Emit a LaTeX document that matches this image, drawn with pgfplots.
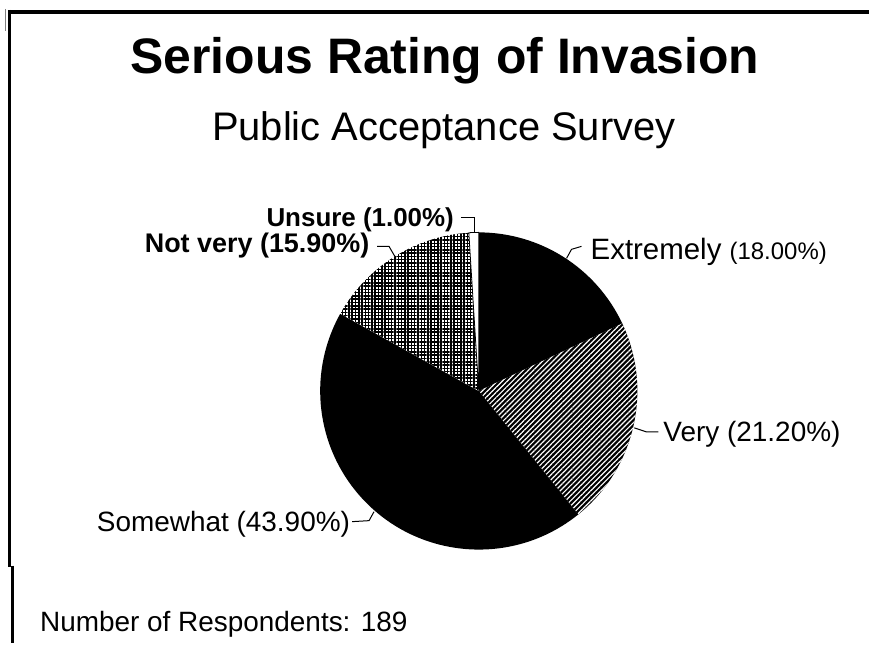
\documentclass[border=0pt]{standalone}
\usepackage{fontspec}
\setmainfont{Liberation Sans}
\usepackage{pgfplots}
\pgfplotsset{compat=1.18}
\usepackage{pgfplotstable}
\usetikzlibrary{patterns.meta}

\pgfplotstableread{
label value
Extremely 18.0
Very 21.2
Somewhat 43.9
Notvery 15.9
Unsure 1.0
}\piedata

% #1 start (percent), #2 share (percent), #3 style
\newcommand\pieslice[3]{%
  \pgfmathsetmacro\pa{90-3.6*(#1)}%
  \pgfmathsetmacro\pb{90-3.6*(#1+#2)}%
  \path[#3] (axis cs:480,253) -- ++(\pa:159pt) arc[start angle=\pa,end angle=\pb,radius=159pt] -- cycle;}

\begin{document}
\begin{tikzpicture}
\begin{axis}[
  width=871pt, height=645pt, scale only axis,
  xmin=0, xmax=871, ymin=0, ymax=645,
  hide axis, clip=false]
\path (axis cs:0,0) rectangle (axis cs:871,645);
\pgfplotsextra{%
  \pgfplotstablegetelem{0}{value}\of\piedata \let\vA\pgfplotsretval
  \pgfplotstablegetelem{1}{value}\of\piedata \let\vB\pgfplotsretval
  \pgfplotstablegetelem{2}{value}\of\piedata \let\vC\pgfplotsretval
  \pgfplotstablegetelem{3}{value}\of\piedata \let\vD\pgfplotsretval
  \pgfplotstablegetelem{4}{value}\of\piedata \let\vE\pgfplotsretval
  \pieslice{0}{\vA}{fill=black}
  \pieslice{\vA}{\vB}{fill=black, postaction={pattern={Lines[angle=45,distance=3.6pt,line width=1.2pt]}, pattern color=white}}
  \pieslice{\vA+\vB}{\vC}{fill=black}
  \pieslice{\vA+\vB+\vC}{\vD}{fill=white, postaction={pattern={Hatch[angle=0,distance=3.3pt,line width=1.5pt]}, pattern color=black}}
  \pieslice{\vA+\vB+\vC+\vD}{\vE}{fill=white, draw=black, line width=0.8pt}
}
% frame
\draw[line width=4.5pt] (axis cs:8,632.7) -- (axis cs:871,632.7);
\draw[line width=3pt] (axis cs:9.5,635) -- (axis cs:9.5,77);
\draw[line width=3pt] (axis cs:12.5,78) -- (axis cs:12.5,0);
\draw[gray, line width=1pt] (axis cs:6,636) -- (axis cs:6,614);
% titles
\node[anchor=base, inner sep=0] at (axis cs:446,571) {\fontsize{50}{50}\selectfont\bfseries Serious Rating of Invasion};
\node[anchor=base, inner sep=0] at (axis cs:445,504) {\fontsize{40}{40}\selectfont Public Acceptance Survey};
% labels
\node[anchor=base west, inner sep=0] at (axis cs:267,418) {\fontsize{26}{26}\selectfont\bfseries Unsure (1.00\%)};
\node[anchor=base west, inner sep=0] at (axis cs:145,392) {\fontsize{27}{27}\selectfont\bfseries Not very (15.90\%)};
\node[anchor=base west, inner sep=0] at (axis cs:592,385) {\fontsize{29.5}{30}\selectfont Extremely \fontsize{24}{24}\selectfont(18.00\%)};
\node[anchor=base west, inner sep=0] at (axis cs:665,202) {\fontsize{28}{28}\selectfont Very (21.20\%)};
\node[anchor=base west, inner sep=0] at (axis cs:97,112) {\fontsize{28}{28}\selectfont Somewhat (43.90\%)};
\node[anchor=base west, inner sep=0] at (axis cs:40,12) {\fontsize{28}{28}\selectfont Number of Respondents: 189};
% leaders
\draw[line width=1pt] (axis cs:462,427) -- (axis cs:476,427) -- (axis cs:476,411);
\draw[line width=1pt] (axis cs:378,398) -- (axis cs:390,398) -- (axis cs:397,386);
\draw[line width=1pt] (axis cs:583,398) -- (axis cs:573,395) -- (axis cs:568,386);
\draw[line width=1pt] (axis cs:660,212) -- (axis cs:648,212) -- (axis cs:636,216);
\draw[line width=1pt] (axis cs:353,122) -- (axis cs:370,123) -- (axis cs:375,132);
\end{axis}
\end{tikzpicture}
\end{document}
